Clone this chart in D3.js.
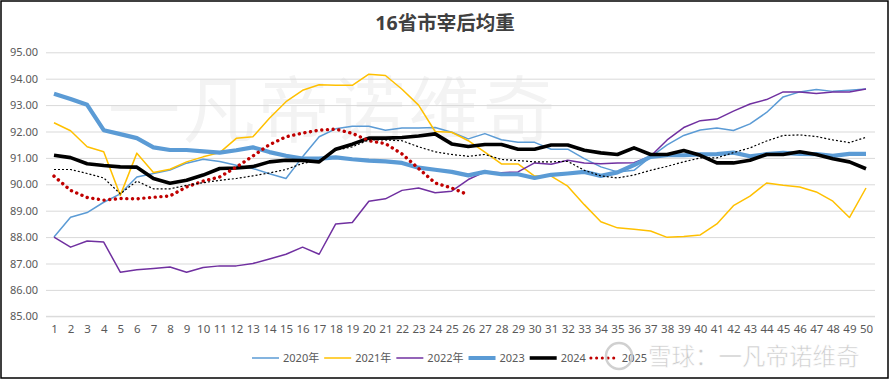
<!DOCTYPE html>
<html><head><meta charset="utf-8">
<script src="https://cdn.jsdelivr.net/npm/d3@7/dist/d3.min.js"></script>
<style>
html,body{margin:0;padding:0;background:#fff;}
svg{display:block;}
text{font-family:"Noto Sans","Noto Sans CJK SC",sans-serif;}
</style></head><body>
<svg id="c" width="890" height="380"></svg>
<script>
const categories = d3.range(1, 51);
const yTicks = [85, 86, 87, 88, 89, 90, 91, 92, 93, 94, 95];

const s2020 = [88.0,88.75,88.93,89.32,89.64,90.28,90.41,90.54,90.8,90.95,90.86,90.72,90.6,90.4,90.22,91.04,91.8,92.1,92.2,92.2,92.05,92.13,92.13,92.15,91.97,91.72,91.92,91.69,91.59,91.59,91.33,91.33,90.97,90.66,90.47,90.53,91.04,91.49,91.85,92.06,92.13,92.04,92.29,92.72,93.31,93.5,93.59,93.52,93.56,93.61];
const s2021 = [92.33,92.03,91.42,91.23,89.58,91.18,90.45,90.57,90.85,91.04,91.2,91.74,91.8,92.5,93.13,93.56,93.77,93.75,93.75,94.17,94.12,93.6,93.0,92.0,91.97,91.65,91.22,90.77,90.77,90.31,90.31,89.93,89.23,88.58,88.35,88.3,88.23,87.99,88.02,88.08,88.5,89.19,89.55,90.05,89.96,89.9,89.71,89.36,88.74,89.86];
const s2022 = [88.0,87.62,87.85,87.81,86.67,86.76,86.81,86.87,86.67,86.85,86.91,86.91,87.0,87.17,87.35,87.62,87.35,88.5,88.55,89.36,89.45,89.77,89.86,89.68,89.74,90.18,90.47,90.44,90.47,90.81,90.76,90.91,90.81,90.78,90.81,90.82,91.06,91.68,92.15,92.41,92.47,92.77,93.04,93.21,93.5,93.5,93.44,93.5,93.5,93.61];
const s2023 = [93.43,93.23,93.01,92.05,91.9,91.75,91.4,91.3,91.3,91.25,91.2,91.29,91.4,91.22,91.08,90.97,90.97,91.02,90.95,90.9,90.87,90.81,90.63,90.55,90.47,90.34,90.47,90.38,90.38,90.24,90.36,90.41,90.47,90.32,90.45,90.73,91.04,91.1,91.1,91.13,91.14,91.2,91.06,91.14,91.19,91.15,91.14,91.08,91.15,91.15];
const s2024 = [91.1,91.01,90.78,90.71,90.66,90.65,90.22,90.04,90.15,90.35,90.6,90.62,90.67,90.85,90.91,90.9,90.85,91.33,91.52,91.75,91.75,91.77,91.83,91.91,91.53,91.43,91.51,91.51,91.33,91.33,91.49,91.49,91.29,91.19,91.13,91.38,91.13,91.13,91.28,91.1,90.81,90.81,90.91,91.13,91.13,91.23,91.13,90.97,90.85,90.59];
const s2025 = [90.31,89.77,89.5,89.4,89.46,89.45,89.51,89.56,89.9,90.12,90.28,90.65,91.07,91.5,91.8,91.94,92.05,92.09,91.93,91.65,91.54,91.15,90.6,90.05,89.86,89.6];
const sAvg = [90.56,90.56,90.41,90.24,89.64,90.12,89.83,89.83,89.96,90.06,90.15,90.22,90.32,90.43,90.56,90.79,90.91,91.29,91.42,91.68,91.68,91.65,91.42,91.23,91.13,91.06,91.13,90.94,90.9,90.85,90.85,90.87,90.53,90.32,90.24,90.35,90.53,90.68,90.85,91.0,91.0,91.2,91.38,91.64,91.85,91.87,91.81,91.68,91.58,91.78];

const series = [
  {name:"2020年", values:s2020, color:"#5B9BD5", width:1.5, dash:null, legend:true},
  {name:"2021年", values:s2021, color:"#FFC000", width:1.5, dash:null, legend:true},
  {name:"2022年", values:s2022, color:"#7030A0", width:1.5, dash:null, legend:true},
  {name:"2023", values:s2023, color:"#5B9BD5", width:4.2, dash:null, legend:true},
  {name:"2024", values:s2024, color:"#000000", width:3.6, dash:null, legend:true},
  {name:"2025", values:s2025, color:"#C00000", width:3.4, dash:"0.1 5.6", cap:"round", legend:true},
  {name:"均值", values:sAvg, color:"#000000", width:1.2, dash:"2 2", legend:false}
];

const svg = d3.select("#c");
const W = 890, H = 380;
const x = d3.scaleLinear().domain([1, 50]).range([54, 866]);
const y = d3.scaleLinear().domain([85, 95]).range([316.3, 52.3]);

svg.append("rect").attr("x",0).attr("y",0).attr("width",W).attr("height",H).attr("fill","#fff");

// faint watermark in plot
svg.append("text").attr("x",108).attr("y",136).attr("font-size",72)
  .attr("fill","#f3f3f3").attr("font-family","'Noto Sans CJK SC',sans-serif")
  .attr("letter-spacing",3).text("一凡帝诺维奇");

// gridlines
const yAxis = d3.axisLeft(y).tickValues(yTicks).tickSize(-(875-46)).tickFormat(d3.format(".2f")).tickPadding(8);
const gy = svg.append("g").attr("transform","translate(46,0)").call(yAxis);
gy.select(".domain").remove();
gy.selectAll(".tick line").attr("stroke","#d9d9d9").attr("stroke-width",1);
gy.selectAll(".tick text").attr("fill","#595959").attr("font-size",11).attr("x",-8);

// x axis
const xAxis = d3.axisBottom(x).tickValues(categories).tickSize(0).tickPadding(9);
const gx = svg.append("g").attr("transform","translate(0,316.3)").call(xAxis);
gx.select(".domain").remove();
gx.selectAll(".tick text").attr("fill","#595959").attr("font-size",11.5);
svg.append("line").attr("x1",46).attr("x2",875).attr("y1",316.3).attr("y2",316.3).attr("stroke","#d9d9d9");

// lines
const line = d3.line().x((d,i)=>x(categories[i])).y(d=>y(d));
series.forEach(s=>{
  const p = svg.append("path").datum(s.values).attr("d",line)
    .attr("fill","none").attr("stroke",s.color).attr("stroke-width",s.width)
    .attr("stroke-linejoin","round");
  if (s.dash) p.attr("stroke-dasharray", s.dash);
  if (s.cap) p.attr("stroke-linecap", s.cap);
});

// title
svg.append("text").attr("x",445).attr("y",30).attr("text-anchor","middle")
  .attr("font-size",19.5).attr("font-weight","bold").attr("fill","#404040")
  .attr("font-family","'Noto Sans CJK SC',sans-serif").text("16省市宰后均重");

// legend
const lg = svg.append("g");
let lx = 252; const ly = 358;
series.filter(s=>s.legend).forEach(s=>{
  const sw = lg.append("line").attr("x1",lx).attr("x2",lx+27).attr("y1",ly).attr("y2",ly)
    .attr("stroke",s.color).attr("stroke-width",Math.min(s.width,4));
  if (s.dash) sw.attr("stroke-dasharray",s.dash).attr("stroke-linecap","round").attr("stroke-width",3);
  const t = lg.append("text").attr("x",lx+31).attr("y",ly+4).attr("font-size",11)
    .attr("fill","#595959").text(s.name);
  lx += 31 + t.node().getComputedTextLength() + 5;
});

// bottom watermark
const wm = svg.append("g").attr("opacity",0.85);
wm.append("circle").attr("cx",619).attr("cy",356).attr("r",13).attr("fill","none")
  .attr("stroke","#c8c8c8").attr("stroke-width",2.5);
wm.append("text").attr("x",648).attr("y",365).attr("font-size",23.5)
  .attr("fill","#c4c4c4").attr("stroke","#ffffff").attr("stroke-width",0.6)
  .attr("font-family","'Noto Sans CJK SC',sans-serif").text("雪球：一凡帝诺维奇");

// border
svg.append("rect").attr("x",1).attr("y",1).attr("width",887).attr("height",377)
  .attr("fill","none").attr("stroke","#000").attr("stroke-width",1.5);
</script>
</body></html>
